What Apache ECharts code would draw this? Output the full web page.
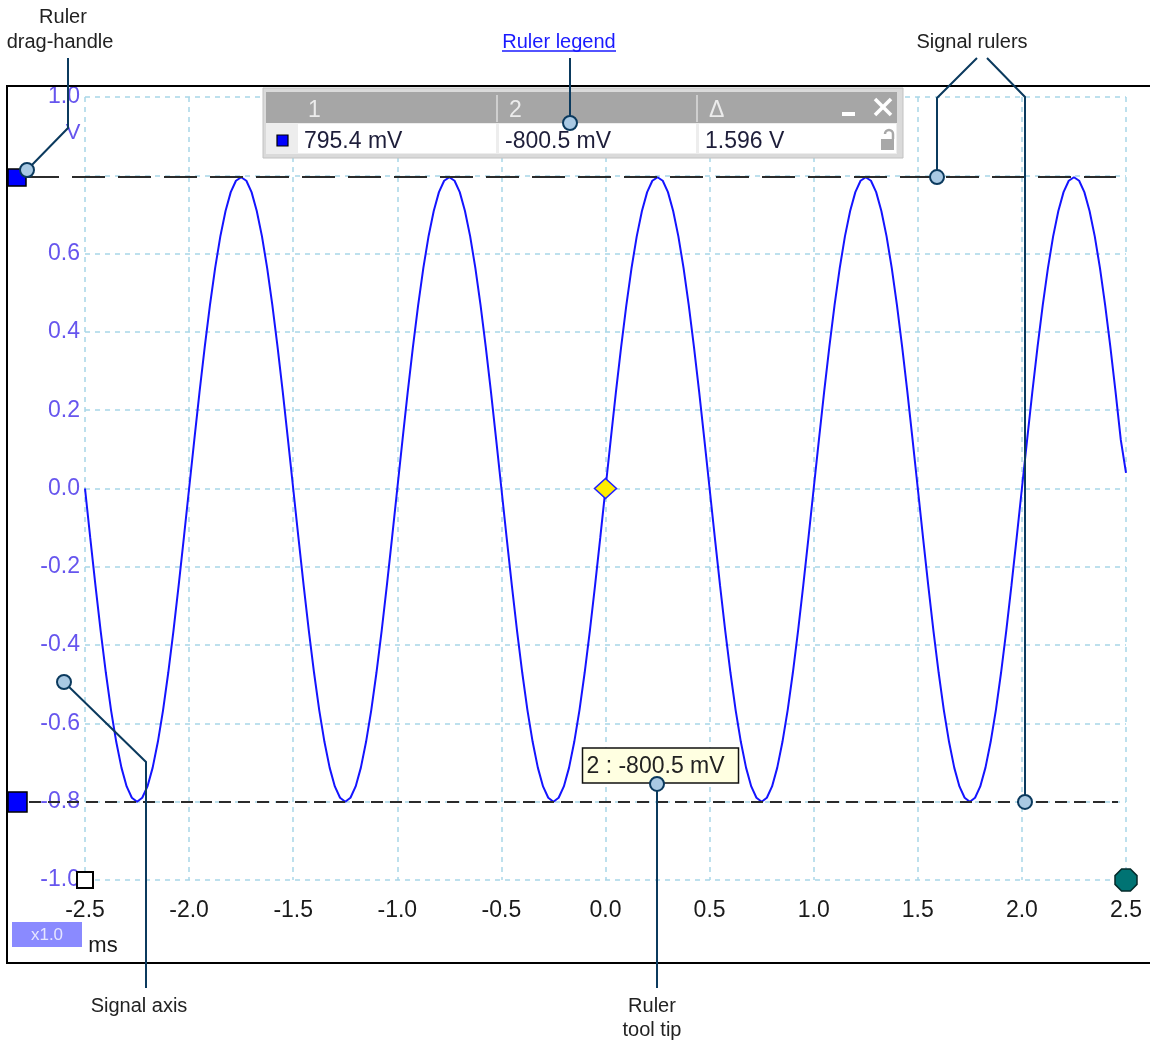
<!DOCTYPE html>
<html><head><meta charset="utf-8">
<script src="https://cdn.jsdelivr.net/npm/echarts@6/dist/echarts.min.js"></script>
<style>html,body{margin:0;padding:0;background:#fff}#c{width:1150px;height:1043px}</style>
</head><body><div id="c"></div>
<script>
// ---- data ----
const timeStartMs = -2.5;
const timeStepMs = 0.025;
const signalVolts = [
 0,-0.125,-0.247,-0.363,-0.470,-0.566,-0.647,-0.713,-0.761,-0.790,-0.800,-0.790,-0.761,-0.713,-0.647,-0.566,-0.470,-0.363,-0.247,-0.125,
 0,0.124,0.246,0.361,0.468,0.563,0.644,0.709,0.757,0.786,0.795,0.786,0.757,0.709,0.644,0.563,0.468,0.361,0.246,0.124,
 0,-0.125,-0.247,-0.363,-0.470,-0.566,-0.647,-0.713,-0.761,-0.790,-0.800,-0.790,-0.761,-0.713,-0.647,-0.566,-0.470,-0.363,-0.247,-0.125,
 0,0.124,0.246,0.361,0.468,0.563,0.644,0.709,0.757,0.786,0.795,0.786,0.757,0.709,0.644,0.563,0.468,0.361,0.246,0.124,
 0,-0.125,-0.247,-0.363,-0.470,-0.566,-0.647,-0.713,-0.761,-0.790,-0.800,-0.790,-0.761,-0.713,-0.647,-0.566,-0.470,-0.363,-0.247,-0.125,
 0,0.124,0.246,0.361,0.468,0.563,0.644,0.709,0.757,0.786,0.795,0.786,0.757,0.709,0.644,0.563,0.468,0.361,0.246,0.124,
 0,-0.125,-0.247,-0.363,-0.470,-0.566,-0.647,-0.713,-0.761,-0.790,-0.800,-0.790,-0.761,-0.713,-0.647,-0.566,-0.470,-0.363,-0.247,-0.125,
 0,0.124,0.246,0.361,0.468,0.563,0.644,0.709,0.757,0.786,0.795,0.786,0.757,0.709,0.644,0.563,0.468,0.361,0.246,0.124,
 0,-0.125,-0.247,-0.363,-0.470,-0.566,-0.647,-0.713,-0.761,-0.790,-0.800,-0.790,-0.761,-0.713,-0.647,-0.566,-0.470,-0.363,-0.247,-0.125,
 0,0.124,0.246,0.361,0.468,0.563,0.644,0.709,0.757,0.786,0.795,0.786,0.757,0.709,0.644,0.563,0.468,0.361,0.246,0.124,
 0.04
];
const xRange = [-2.5, 2.5];
const xInterval = 0.5;
const yRange = [-1.0, 1.0];
const yInterval = 0.2;
const yHiddenLabels = ['0.8'];
const rulerLevels = [0.7954, -0.8005];
const legendHeader = ['1', '2', 'Δ'];
const legendValues = ['795.4 mV', '-800.5 mV', '1.596 V'];
const tooltipText = '2 : -800.5 mV';
const triggerPoint = [[0, 0]];
const startMarker = [[-2.5, -1.0]];
const endMarker = [[2.5, -1.0]];
const unitY = 'V';
const unitX = 'ms';
const zoomText = 'x1.0';
const notes = {
  handle: ['Ruler', 'drag-handle'],
  legend: 'Ruler legend',
  rulers: 'Signal rulers',
  axis: 'Signal axis',
  tip: ['Ruler', 'tool tip']
};

// ---- chart ----
const FONT = '"Liberation Sans", Arial, sans-serif';
const LABEL_Y = '#6655ee';
const NAVY = '#0b3a5e';
const DOT = '#a9c9e3';
const chart = echarts.init(document.getElementById('c'), null, {renderer: 'canvas'});
const signalData = signalVolts.map((v, i) => [timeStartMs + i * timeStepMs, v]);

chart.setOption({
  animation: false,
  backgroundColor: '#ffffff',
  grid: {left: 85, top: 97, width: 1041, height: 783, containLabel: false},
  xAxis: {
    type: 'value', min: xRange[0], max: xRange[1], interval: xInterval,
    axisLine: {show: false}, axisTick: {show: false},
    axisLabel: {color: '#1a1a1a', fontFamily: FONT, fontSize: 23, margin: 19,
      formatter: v => v.toFixed(1)},
    splitLine: {show: true, lineStyle: {color: '#a8d6e8', width: 1.5, type: [5, 5]}}
  },
  yAxis: {
    type: 'value', min: yRange[0], max: yRange[1], interval: yInterval,
    axisLine: {show: false}, axisTick: {show: false},
    axisLabel: {color: LABEL_Y, fontFamily: FONT, fontSize: 23, margin: 5,
      formatter: v => yHiddenLabels.includes(v.toFixed(1)) ? '' : v.toFixed(1)},
    splitLine: {show: true, lineStyle: {color: '#a8d6e8', width: 1.5, type: [5, 5]}}
  },
  series: [
    {type: 'line', data: signalData, showSymbol: false, smooth: false, z: 3,
      lineStyle: {color: '#1414ff', width: 2}, clip: false},
    {type: 'scatter', data: triggerPoint, symbol: 'diamond', symbolSize: [22, 20], z: 6,
      itemStyle: {color: '#ffee00', borderColor: '#2020ff', borderWidth: 1.5, opacity: 1}},
    {type: 'scatter', data: startMarker, symbol: 'rect', symbolSize: 16, clip: false, z: 6,
      itemStyle: {color: '#ffffff', borderColor: '#000000', borderWidth: 2, opacity: 1}},
    {type: 'scatter', data: endMarker, clip: false, z: 6,
      symbol: 'path://M30,0 L70,0 L100,30 L100,70 L70,100 L30,100 L0,70 L0,30 Z', symbolSize: 22,
      itemStyle: {color: '#007373', borderColor: '#052a2a', borderWidth: 1.5, opacity: 1}}
  ]
});

const py = v => chart.convertToPixel({gridIndex: 0}, [0, v])[1];
const px = v => chart.convertToPixel({gridIndex: 0}, [v, 0])[0];
const yR1 = py(rulerLevels[0]);
const yR2 = py(rulerLevels[1]);
const yTopTick = py(yRange[1]);

const T = (x, y, text, o) => Object.assign({type: 'text', x, y, z: 50,
  style: Object.assign({text, fill: '#222', font: '20px ' + FONT, align: 'center', verticalAlign: 'middle'}, o || {})});
const L = (pts, z) => ({type: 'polyline', z: z || 60, shape: {points: pts},
  style: {stroke: NAVY, lineWidth: 2, fill: null}});
const C = (x, y) => ({type: 'circle', z: 61, shape: {cx: x, cy: y, r: 7},
  style: {fill: DOT, stroke: NAVY, lineWidth: 2}});

const g = [];
// plot frame
g.push({type: 'rect', z: 20, shape: {x: 7, y: 86, width: 1160, height: 877},
  style: {fill: null, stroke: '#000', lineWidth: 2}});
// unit label
g.push(T(73, yTopTick + 36, unitY, {fill: LABEL_Y, font: '22px ' + FONT}));
// zoom box and ms
g.push({type: 'rect', z: 30, shape: {x: 12, y: 922, width: 70, height: 25}, style: {fill: '#8a8aff'}});
g.push(T(47, 935, zoomText, {fill: '#e6e6ff', font: '17px ' + FONT}));
g.push(T(103, 946, unitX, {fill: '#1a1a1a', font: '22px ' + FONT}));
// rulers
g.push({type: 'line', z: 25, shape: {x1: 26, y1: yR1, x2: 1116, y2: yR1},
  style: {stroke: '#2b2b2b', lineWidth: 2, lineDash: [33, 13]}});
g.push({type: 'line', z: 25, shape: {x1: 29, y1: yR2, x2: 1118, y2: yR2},
  style: {stroke: '#2b2b2b', lineWidth: 2, lineDash: [12, 7]}});
// ruler handles
g.push({type: 'rect', z: 26, shape: {x: 8, y: yR1 - 8, width: 18, height: 17},
  style: {fill: '#0000ff', stroke: '#000', lineWidth: 1.5}});
g.push({type: 'rect', z: 26, shape: {x: 8, y: yR2 - 10, width: 19, height: 20},
  style: {fill: '#0000ff', stroke: '#000', lineWidth: 1.5}});
// tooltip
const tipX = px(0) - 23;
g.push({type: 'rect', z: 40, shape: {x: tipX, y: yR2 - 54, width: 156, height: 35},
  style: {fill: '#ffffe1', stroke: '#111', lineWidth: 1.5}});
g.push(T(tipX + 4, yR2 - 35, tooltipText, {align: 'left', font: '23px ' + FONT, fill: '#222'}));
// ruler legend box
g.push({type: 'rect', z: 40, shape: {x: 263, y: 88, width: 640, height: 70},
  style: {fill: '#dadada', stroke: '#c2c2c2', lineWidth: 1}});
g.push({type: 'rect', z: 41, shape: {x: 266, y: 92, width: 631, height: 31}, style: {fill: '#a6a6a6'}});
g.push({type: 'rect', z: 41, shape: {x: 266, y: 123, width: 631, height: 31}, style: {fill: '#ededed'}});
const cellX = [298, 499, 699];
const cellW = [198, 197, 197];
cellX.forEach((x, i) => {
  g.push({type: 'rect', z: 42, shape: {x, y: 124, width: cellW[i], height: 29}, style: {fill: '#ffffff'}});
  g.push(T(x + 10, 111, legendHeader[i], {align: 'left', fill: '#ececec', font: '23px ' + FONT}));
  g.push(T(x + 6, 142, legendValues[i], {align: 'left', fill: '#1e1e3a', font: '23px ' + FONT}));
});
[497, 697].forEach(x => g.push({type: 'line', z: 42, shape: {x1: x, y1: 95, x2: x, y2: 122},
  style: {stroke: '#dcdcdc', lineWidth: 1.5}}));
g.push({type: 'rect', z: 43, shape: {x: 277, y: 135, width: 11, height: 11},
  style: {fill: '#0000ff', stroke: '#000', lineWidth: 1.2}});
// minimize & close
g.push({type: 'rect', z: 43, shape: {x: 842, y: 112, width: 13, height: 4}, style: {fill: '#fff'}});
g.push({type: 'line', z: 43, shape: {x1: 875, y1: 99, x2: 891, y2: 115}, style: {stroke: '#fff', lineWidth: 3.5}});
g.push({type: 'line', z: 43, shape: {x1: 891, y1: 99, x2: 875, y2: 115}, style: {stroke: '#fff', lineWidth: 3.5}});
// lock icon
g.push({type: 'rect', z: 43, shape: {x: 881, y: 139, width: 13, height: 11}, style: {fill: '#a8a8a8'}});
g.push({type: 'arc', z: 43, shape: {cx: 889, cy: 134, r: 4, startAngle: Math.PI, endAngle: 2 * Math.PI},
  style: {stroke: '#a8a8a8', lineWidth: 2.5, fill: null}});
g.push({type: 'line', z: 43, shape: {x1: 893, y1: 134, x2: 893, y2: 139}, style: {stroke: '#a8a8a8', lineWidth: 2.5}});

// annotations
g.push(T(63, 17, notes.handle[0]));
g.push(T(60, 42, notes.handle[1]));
g.push(L([[68, 58], [68, 128], [27, 170]]));
g.push(C(27, 170));

g.push(T(559, 42, notes.legend, {fill: '#1a1aff'}));
g.push({type: 'line', z: 50, shape: {x1: 502, y1: 51, x2: 616, y2: 51}, style: {stroke: '#1a1aff', lineWidth: 1.5}});
g.push(L([[570, 58], [570, 123]]));
g.push(C(570, 123));

g.push(T(972, 42, notes.rulers));
g.push(L([[977, 58], [937, 98], [937, yR1]]));
g.push(C(937, yR1));
g.push(L([[987, 58], [1025, 97], [1025, yR2]]));
g.push(C(1025, yR2));

g.push(T(139, 1006, notes.axis));
g.push(L([[64, 682], [146, 762], [146, 988]]));
g.push(C(64, 682));

g.push(T(652, 1006, notes.tip[0]));
g.push(T(652, 1030, notes.tip[1]));
g.push(L([[657, yR2 - 18], [657, 988]]));
g.push(C(657, yR2 - 18));

chart.setOption({graphic: g});
</script>
</body></html>
